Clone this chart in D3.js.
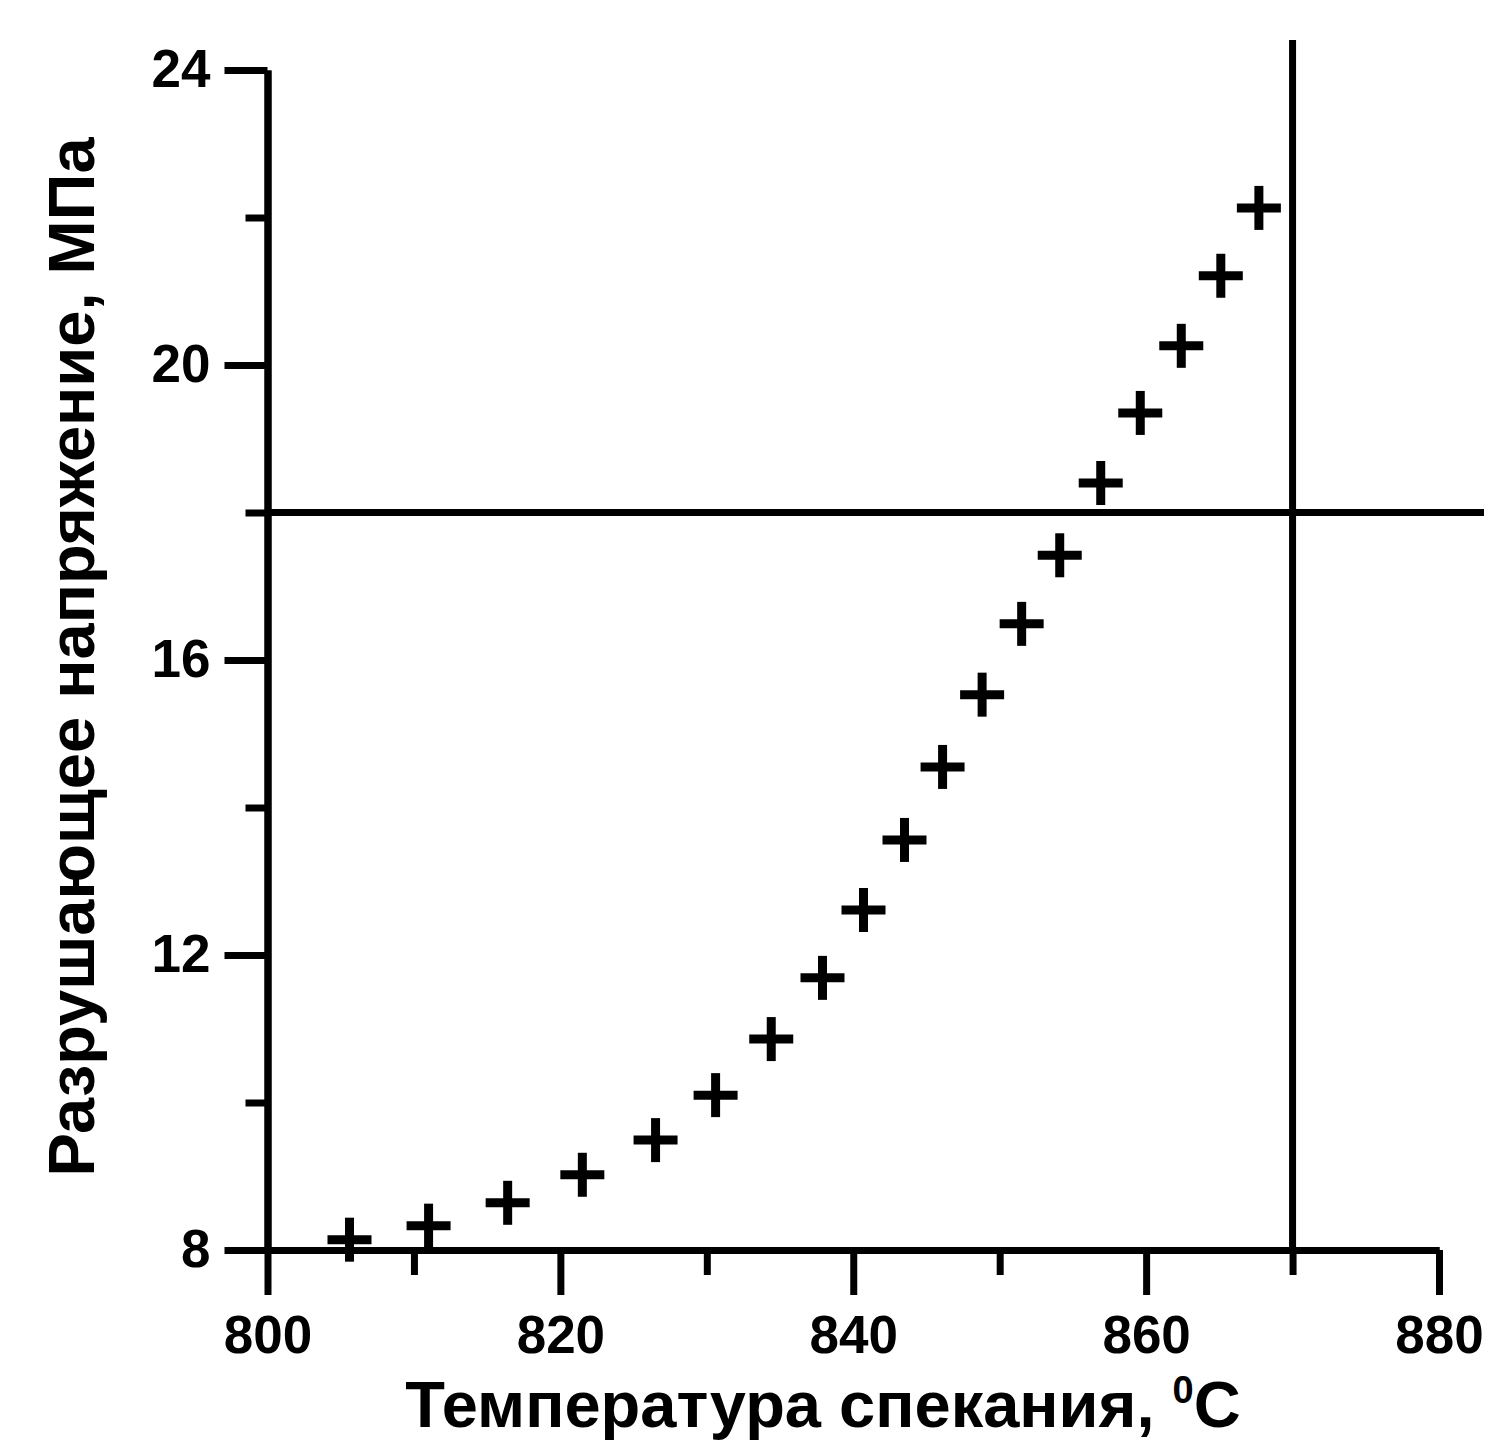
<!DOCTYPE html>
<html>
<head>
<meta charset="utf-8">
<script src="https://cdn.jsdelivr.net/npm/d3@7"></script>
<style>
  body { margin: 0; background: #fff; }
  svg text { font-family: "Liberation Sans", Arial, sans-serif; font-weight: bold; fill: #000; }
</style>
</head>
<body>
<div id="chart"></div>
<script>
// data
var temperature = [805.6, 811.0, 816.4, 821.5, 826.5, 830.6, 834.4, 837.9, 840.7, 843.5,
                   846.1, 848.8, 851.5, 854.1, 856.9, 859.6, 862.4, 865.1, 867.7];
var strength = [8.14, 8.33, 8.64, 9.02, 9.49, 10.10, 10.86, 11.69, 12.61, 13.56,
                14.55, 15.53, 16.49, 17.42, 18.40, 19.35, 20.26, 21.21, 22.13];
var xMajor = [800, 820, 840, 860, 880];
var xMinor = [810, 830, 850, 870];
var yMajor = [8, 12, 16, 20, 24];
var yMinor = [10, 14, 18, 22];
var refX = 870;   // vertical guide
var refY = 18;    // horizontal guide

var width = 1487, height = 1445;
var svg = d3.select("#chart").append("svg")
    .attr("width", width)
    .attr("height", height);

var x = d3.scaleLinear().domain([800, 880]).range([267.5, 1439]);
var y = d3.scaleLinear().domain([8, 24]).range([1250, 70]);

var sw = 7;

// guide lines
svg.append("line")
    .attr("x1", x(800)).attr("x2", 1484)
    .attr("y1", y(refY)).attr("y2", y(refY))
    .attr("stroke", "#000").attr("stroke-width", sw);
svg.append("line")
    .attr("x1", x(refX)).attr("x2", x(refX))
    .attr("y1", 40).attr("y2", y(8))
    .attr("stroke", "#000").attr("stroke-width", sw);

// x axis
var gx = svg.append("g").attr("transform", "translate(0," + y(8) + ")");
gx.append("g").call(d3.axisBottom(x).tickValues(xMinor).tickSize(25).tickSizeOuter(0).tickFormat(""));
gx.append("g").call(d3.axisBottom(x).tickValues(xMajor).tickSize(45).tickSizeOuter(0).tickPadding(20));

// y axis
var gy = svg.append("g").attr("transform", "translate(" + x(800) + ",0)");
gy.append("g").call(d3.axisLeft(y).tickValues(yMinor).tickSize(22).tickSizeOuter(0).tickFormat(""));
gy.append("g").call(d3.axisLeft(y).tickValues(yMajor).tickSize(43).tickSizeOuter(0).tickPadding(14));

svg.selectAll(".domain").attr("stroke", "#000").attr("stroke-width", sw);
svg.selectAll(".tick line").attr("stroke", "#000").attr("stroke-width", sw);
svg.selectAll(".tick text")
    .style("font-family", "'Liberation Sans', Arial, sans-serif")
    .style("font-weight", "bold")
    .attr("font-size", 53)
    .attr("fill", "#000");

// markers (plus signs)
var pts = temperature.map((t, i) => ({t: t, s: strength[i]}));
var plus = svg.append("g").selectAll("g")
    .data(pts)
    .join("g")
    .attr("transform", d => "translate(" + x(d.t) + "," + y(d.s) + ")");
plus.append("line").attr("x1", -22).attr("x2", 22)
    .attr("stroke", "#000").attr("stroke-width", 9);
plus.append("line").attr("y1", -22).attr("y2", 22)
    .attr("stroke", "#000").attr("stroke-width", 9);

// axis titles
var xt = svg.append("text")
    .attr("x", 823).attr("y", 1427)
    .attr("text-anchor", "middle")
    .attr("font-size", 65)
    .text("Температура спекания, ");
xt.append("tspan").attr("font-size", 38).attr("dy", -24).text("0");
xt.append("tspan").attr("dy", 24).text("C");

svg.append("text")
    .attr("transform", "translate(94,657) rotate(-90)")
    .attr("text-anchor", "middle")
    .attr("font-size", 65)
    .text("Разрушающее напряжение, МПа");
</script>
</body>
</html>
